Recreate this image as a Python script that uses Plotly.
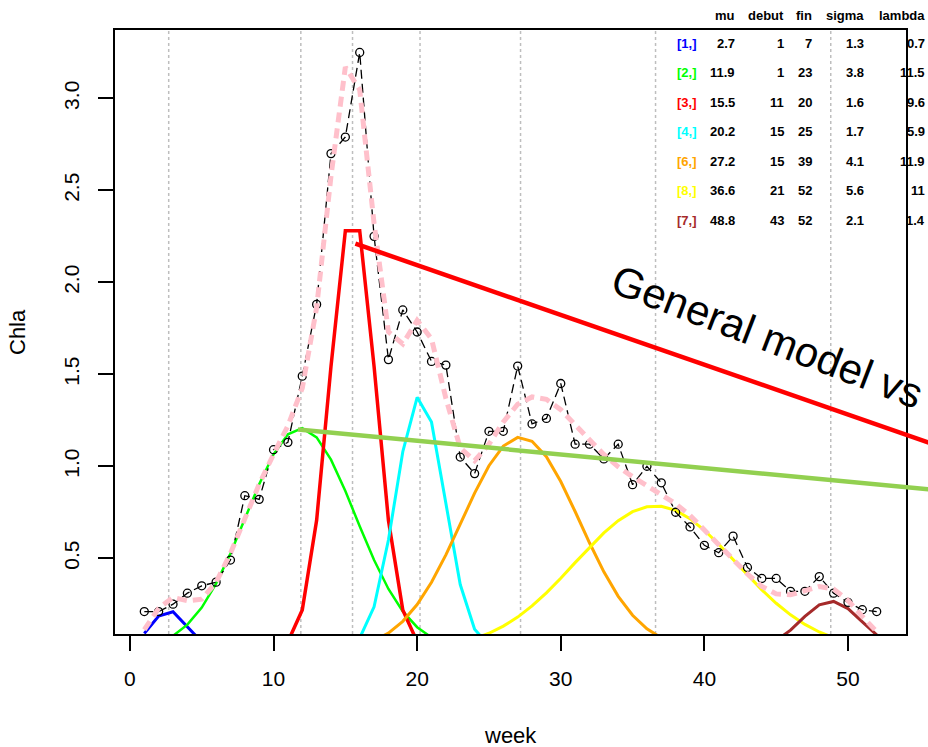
import plotly.graph_objects as go

# ---- observed weekly chlorophyll-a ----
weeks = list(range(1, 53))
chla = [0.21, 0.21, 0.25, 0.31, 0.35, 0.37, 0.49, 0.84, 0.82, 1.09,
        1.13, 1.49, 1.88, 2.70, 2.79, 3.25, 2.25, 1.58, 1.85, 1.73,
        1.57, 1.55, 1.05, 0.96, 1.19, 1.19, 1.545, 1.23, 1.26, 1.45,
        1.12, 1.12, 1.04, 1.12, 0.90, 1.00, 0.91, 0.75, 0.67, 0.57,
        0.53, 0.62, 0.45, 0.39, 0.39, 0.32, 0.32, 0.40, 0.31, 0.26,
        0.22, 0.21]

# ---- general model (all components together), weeks 1..52 ----
model = [0.111, 0.227, 0.287, 0.269, 0.277, 0.369, 0.527, 0.713, 0.902, 1.065,
         1.220, 1.425, 1.863, 2.578, 3.171, 3.047, 2.320, 1.731, 1.665, 1.793,
         1.693, 1.369, 1.100, 1.030, 1.120, 1.241, 1.337, 1.377, 1.364, 1.308,
         1.230, 1.144, 1.064, 0.997, 0.943, 0.896, 0.849, 0.796, 0.733, 0.652,
         0.576, 0.493, 0.414, 0.347, 0.306, 0.301, 0.324, 0.346, 0.332, 0.271,
         0.183, 0.101]

# ---- component parameter table ----
row_labels = ["[1,]", "[2,]", "[3,]", "[4,]", "[6,]", "[8,]", "[7,]"]
comp_colors = ["#0000FF", "#00FF00", "#FF0000", "#00FFFF", "#FFA500", "#FFFF00", "#A52A2A"]
mu = [2.7, 11.9, 15.5, 20.2, 27.2, 36.6, 48.8]
debut = [1, 1, 11, 15, 15, 21, 43]
fin = [7, 23, 20, 25, 39, 52, 52]
sigma = [1.3, 3.8, 1.6, 1.7, 4.1, 5.6, 2.1]
lambdas = [0.7, 11.5, 9.6, 5.9, 11.9, 11, 1.4]

# ---- component curves, one value per week from debut to fin ----
comp_1 = [0.091, 0.186, 0.209, 0.130, 0.045, 0.007, 0.001]
comp_2 = [0.020, 0.041, 0.078, 0.139, 0.232, 0.362, 0.526, 0.713, 0.902, 1.065,
          1.174, 1.207, 1.157, 1.036, 0.865, 0.674, 0.490, 0.333, 0.211, 0.125,
          0.069, 0.035, 0.017]
comp_3 = [0.046, 0.219, 0.706, 1.543, 2.280, 2.280, 1.543, 0.706, 0.219, 0.046]
comp_4 = [0.013, 0.066, 0.236, 0.599, 1.079, 1.375, 1.240, 0.790, 0.357, 0.114, 0.026]
comp_6 = [0.014, 0.028, 0.052, 0.093, 0.157, 0.248, 0.369, 0.518, 0.685, 0.854,
          1.003, 1.110, 1.157, 1.136, 1.052, 0.917, 0.754, 0.584, 0.426, 0.293,
          0.190, 0.116, 0.067, 0.036, 0.018]
comp_8 = [0.016, 0.026, 0.041, 0.062, 0.092, 0.131, 0.180, 0.241, 0.312, 0.391,
          0.476, 0.560, 0.638, 0.704, 0.753, 0.780, 0.782, 0.760, 0.715, 0.652,
          0.576, 0.493, 0.408, 0.328, 0.255, 0.192, 0.140, 0.099, 0.068, 0.045,
          0.029, 0.018]
comp_7 = [0.006, 0.020, 0.052, 0.109, 0.184, 0.247, 0.265, 0.226, 0.154, 0.083]
components = [comp_1, comp_2, comp_3, comp_4, comp_6, comp_8, comp_7]
comp_widths = [3, 2.5, 3.5, 3, 3, 3, 3]

# ---- axes ----
x_ticks = [0, 10, 20, 30, 40, 50]
y_ticks = [0.5, 1.0, 1.5, 2.0, 2.5, 3.0]
x_range = [-1.04, 54.04]
y_range = [0.088, 3.372]

W, H = 928, 747
ML, MR, MT, MB = 115, 22, 30, 113
PW, PH = W - ML - MR, H - MT - MB
FONT = "Liberation Sans, Arial, sans-serif"


def xpaper_px(px):
    return (px - ML) / PW


def ypaper_px(py):
    return (H - MB - py) / PH


def xpaper_data(v):
    return (v - x_range[0]) / (x_range[1] - x_range[0])


def ypaper_data(v):
    return (v - y_range[0]) / (y_range[1] - y_range[0])


fig = go.Figure()

for i, vals in enumerate(components):
    fig.add_trace(go.Scatter(
        x=list(range(debut[i], fin[i] + 1)), y=vals, mode="lines",
        line=dict(color=comp_colors[i], width=comp_widths[i]),
        hoverinfo="skip", showlegend=False))

fig.add_trace(go.Scatter(
    x=weeks, y=chla, mode="lines+markers",
    line=dict(color="black", width=1.3, dash="9px,5px"),
    marker=dict(symbol="circle-open", size=8, color="black", line=dict(width=1.3)),
    showlegend=False))

fig.add_trace(go.Scatter(
    x=weeks, y=model, mode="lines",
    line=dict(color="#FFC0CB", width=5, dash="10px,6px"),
    showlegend=False))

shapes = []
# dotted markers at each component centre
for m in mu:
    shapes.append(dict(type="line", xref="x", yref="paper", x0=m, x1=m, y0=0, y1=1,
                       line=dict(color="#BEBEBE", width=1.5, dash="dot"), layer="below"))

# pointer lines from component peaks toward the caption
pointer_starts = [(15.7, 2.21), (11.7, 1.20)]
pointer_ends_px = [(960, 453.4), (960, 492.3)]
pointer_colors = ["#FF0000", "#92D050"]
for (sx, sy), (ex, ey), c in zip(pointer_starts, pointer_ends_px, pointer_colors):
    shapes.append(dict(type="line", xref="paper", yref="paper",
                       x0=xpaper_data(sx), y0=ypaper_data(sy),
                       x1=xpaper_px(ex), y1=ypaper_px(ey),
                       line=dict(color=c, width=4.5), layer="above"))

annotations = []
# parameter table
col_names = ["mu", "debut", "fin", "sigma", "lambda"]
col_right_px = [737, 786, 814, 866, 927]
header_y = 15
row_y0, row_dy = 43.3, 29.45
tfont = dict(family=FONT, size=13, color="black", weight="bold")
for name, cx in zip(col_names, col_right_px):
    annotations.append(dict(xref="paper", yref="paper", x=xpaper_px(cx), y=ypaper_px(header_y),
                            text=name, showarrow=False, xanchor="right", yanchor="middle",
                            font=tfont))
for i in range(len(row_labels)):
    yy = ypaper_px(row_y0 + i * row_dy)
    annotations.append(dict(xref="paper", yref="paper", x=xpaper_px(687), y=yy,
                            text=row_labels[i], showarrow=False, xanchor="center",
                            yanchor="middle",
                            font=dict(family=FONT, size=13, color=comp_colors[i], weight="bold")))
    cells = [f"{mu[i]:g}", f"{debut[i]}", f"{fin[i]}", f"{sigma[i]:g}", f"{lambdas[i]:g}"]
    for txt, cx in zip(cells, col_right_px):
        annotations.append(dict(xref="paper", yref="paper", x=xpaper_px(cx), y=yy,
                                text=txt, showarrow=False, xanchor="right", yanchor="middle",
                                font=tfont))

# caption
annotations.append(dict(xref="paper", yref="paper", x=xpaper_px(767), y=ypaper_px(336),
                        text="General model vs", showarrow=False, textangle=21,
                        xanchor="center", yanchor="middle",
                        font=dict(family=FONT, size=42, color="black")))

# axis titles
annotations.append(dict(xref="paper", yref="paper", x=0.5, y=0, yshift=-101,
                        text="week", showarrow=False, xanchor="center", yanchor="middle",
                        font=dict(family=FONT, size=22, color="black")))
annotations.append(dict(xref="paper", yref="paper", x=0, y=0.5, xshift=-98,
                        text="Chla", showarrow=False, textangle=-90,
                        xanchor="center", yanchor="middle",
                        font=dict(family=FONT, size=22, color="black")))

axis_common = dict(showgrid=False, zeroline=False, showline=True, mirror=True,
                   linecolor="black", linewidth=1.5, ticks="outside", ticklen=15,
                   tickwidth=1.5, tickcolor="black",
                   tickfont=dict(family=FONT, size=21, color="black"))

fig.update_layout(
    width=W, height=H, autosize=False,
    margin=dict(l=ML, r=MR, t=MT, b=MB, pad=0),
    paper_bgcolor="white", plot_bgcolor="white",
    xaxis=dict(range=x_range, tickvals=x_ticks, ticktext=[str(t) for t in x_ticks],
               ticklabelstandoff=10, **axis_common),
    yaxis=dict(range=y_range, tickvals=y_ticks, ticktext=[f"{t:.1f}" for t in y_ticks],
               tickangle=-90, ticklabelstandoff=11, **axis_common),
    shapes=shapes, annotations=annotations, showlegend=False,
)

fig.write_html("out.html")
